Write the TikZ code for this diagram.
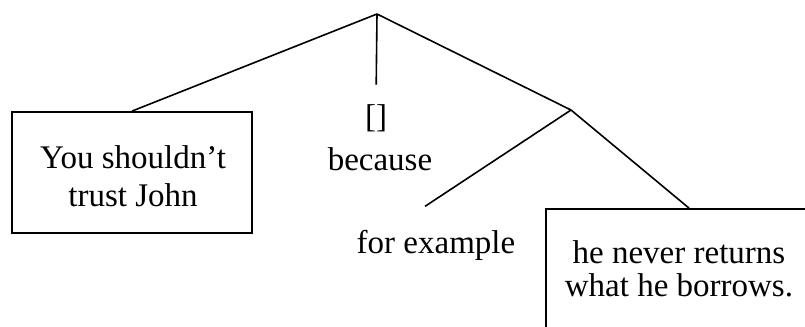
\documentclass[tikz,border=0pt]{standalone}
\usepackage{fontspec}
\setmainfont{Liberation Serif}
\usetikzlibrary{calc}

\begin{document}
\begin{tikzpicture}[
    x=0.5pt, y=-0.5pt,
    every node/.style={font=\fontsize{16.5}{16.5}\selectfont},
    box/.style={rectangle, draw, line width=0.9pt, inner sep=0pt},
    txt/.style={align=center, inner sep=0pt},
    edge/.style={line width=0.8pt}
]
    \useasboundingbox (0,0) rectangle (805,327);
    \clip (0,0) rectangle (805,327);

    \coordinate (top) at (377,14);
    \coordinate (sub) at (571,110);

    % left box
    \node[box, minimum width=120pt, minimum height=60.5pt] (lbox) at (132,172.5) {};
    \node[txt, anchor=north, font=\fontsize{16.5}{19}\selectfont] (reason) at (133,145) {You shouldn't\\trust John};

    % connective
    \node[txt, anchor=base] (bk) at (376,127) {[]};
    \node[txt, anchor=base] (because) at (380,170) {because};

    % right side
    \node[txt, anchor=base] (ex) at (436,253) {for example};
    \node[box, minimum width=143pt, minimum height=65.5pt] (rbox) at (689,274.5) {};
    \node[txt, anchor=north] (claim) at (679,240) {he never returns\\what he borrows.};

    \draw[edge] (top) -- (lbox.north);
    \draw[edge, shorten >=9.5pt] (top) -- (bk.north);
    \draw[edge] (top) -- (sub);
    \draw[edge] (sub) -- ($(ex.north)+(-11,-23)$);
    \draw[edge] (sub) -- (rbox.north);
\end{tikzpicture}
\end{document}
